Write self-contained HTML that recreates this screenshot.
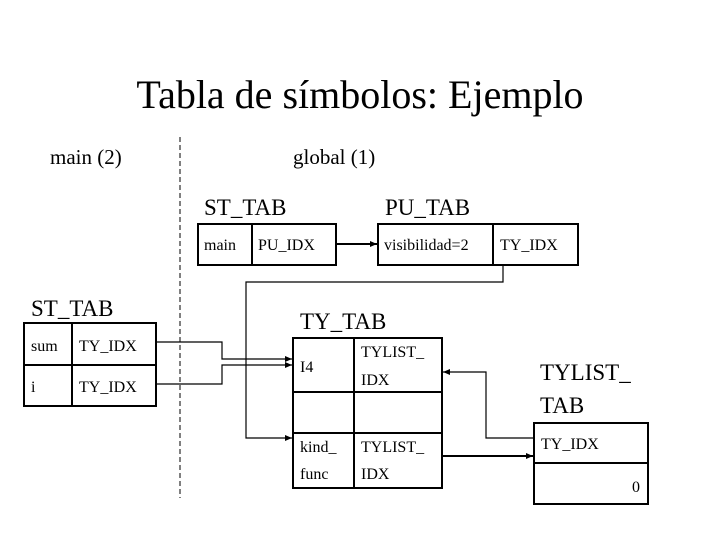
<!DOCTYPE html>
<html><head><style>
body{margin:0;background:#fff;}
svg text{font-family:"Liberation Serif",serif;fill:#000;}
</style></head><body>
<svg width="720" height="540" viewBox="0 0 720 540" xmlns="http://www.w3.org/2000/svg">
<defs><marker id="a" markerWidth="8" markerHeight="8" refX="7" refY="4" orient="auto" markerUnits="userSpaceOnUse"><path d="M0,1 L7,4 L0,7 z" fill="#000"/></marker></defs>
<text x="360" y="108" font-size="40" text-anchor="middle">Tabla de símbolos: Ejemplo</text>
<text x="50" y="164" font-size="21">main (2)</text>
<text x="293" y="164" font-size="21">global (1)</text>
<text x="204" y="215" font-size="23">ST_TAB</text>
<text x="385" y="215" font-size="23">PU_TAB</text>
<text x="31" y="316" font-size="23">ST_TAB</text>
<text x="300" y="329" font-size="23">TY_TAB</text>
<text x="540" y="380" font-size="23">TYLIST_</text>
<text x="540" y="413" font-size="23">TAB</text>
<line x1="180" y1="137" x2="180" y2="498" stroke="#000" stroke-dasharray="5,3"/>
<g fill="none" stroke="#000" stroke-width="2">
<rect x="198" y="224" width="138" height="41"/><line x1="252" y1="224" x2="252" y2="265"/>
<rect x="378" y="224" width="200" height="41"/><line x1="493" y1="224" x2="493" y2="265"/>
<rect x="24" y="323" width="132" height="83"/><line x1="24" y1="365" x2="156" y2="365"/><line x1="72" y1="323" x2="72" y2="406"/>
<rect x="293" y="338" width="149" height="150"/><line x1="354" y1="338" x2="354" y2="488"/><line x1="293" y1="392" x2="442" y2="392"/><line x1="293" y1="433" x2="442" y2="433"/>
<rect x="534" y="423" width="114" height="81"/><line x1="534" y1="463" x2="648" y2="463"/>
</g>
<g fill="none" stroke="#000" stroke-width="1.2">
<line x1="336" y1="244" x2="377" y2="244" stroke-width="2" marker-end="url(#a)"/>
<polyline points="503,265 503,282 246,282 246,438 292,438" marker-end="url(#a)"/>
<polyline points="156,342 222,342 222,359 292,359" marker-end="url(#a)"/>
<polyline points="156,384 222,384 222,365 292,365" marker-end="url(#a)"/>
<polyline points="534,438 486,438 486,372 443,372" marker-end="url(#a)"/>
<line x1="442" y1="456" x2="533" y2="456" stroke-width="2" marker-end="url(#a)"/>
</g>
<g font-size="16">
<text x="204" y="250">main</text><text x="258" y="250">PU_IDX</text>
<text x="384" y="250">visibilidad=2</text><text x="500" y="250">TY_IDX</text>
<text x="31" y="351">sum</text><text x="79" y="351">TY_IDX</text>
<text x="31" y="392">i</text><text x="79" y="392">TY_IDX</text>
<text x="300" y="372">I4</text>
<text x="361" y="357">TYLIST_</text><text x="361" y="385">IDX</text>
<text x="300" y="452">kind_</text><text x="300" y="479">func</text>
<text x="361" y="452">TYLIST_</text><text x="361" y="479">IDX</text>
<text x="541" y="449">TY_IDX</text>
<text x="640" y="492" text-anchor="end">0</text>
</g>
</svg>
</body></html>
